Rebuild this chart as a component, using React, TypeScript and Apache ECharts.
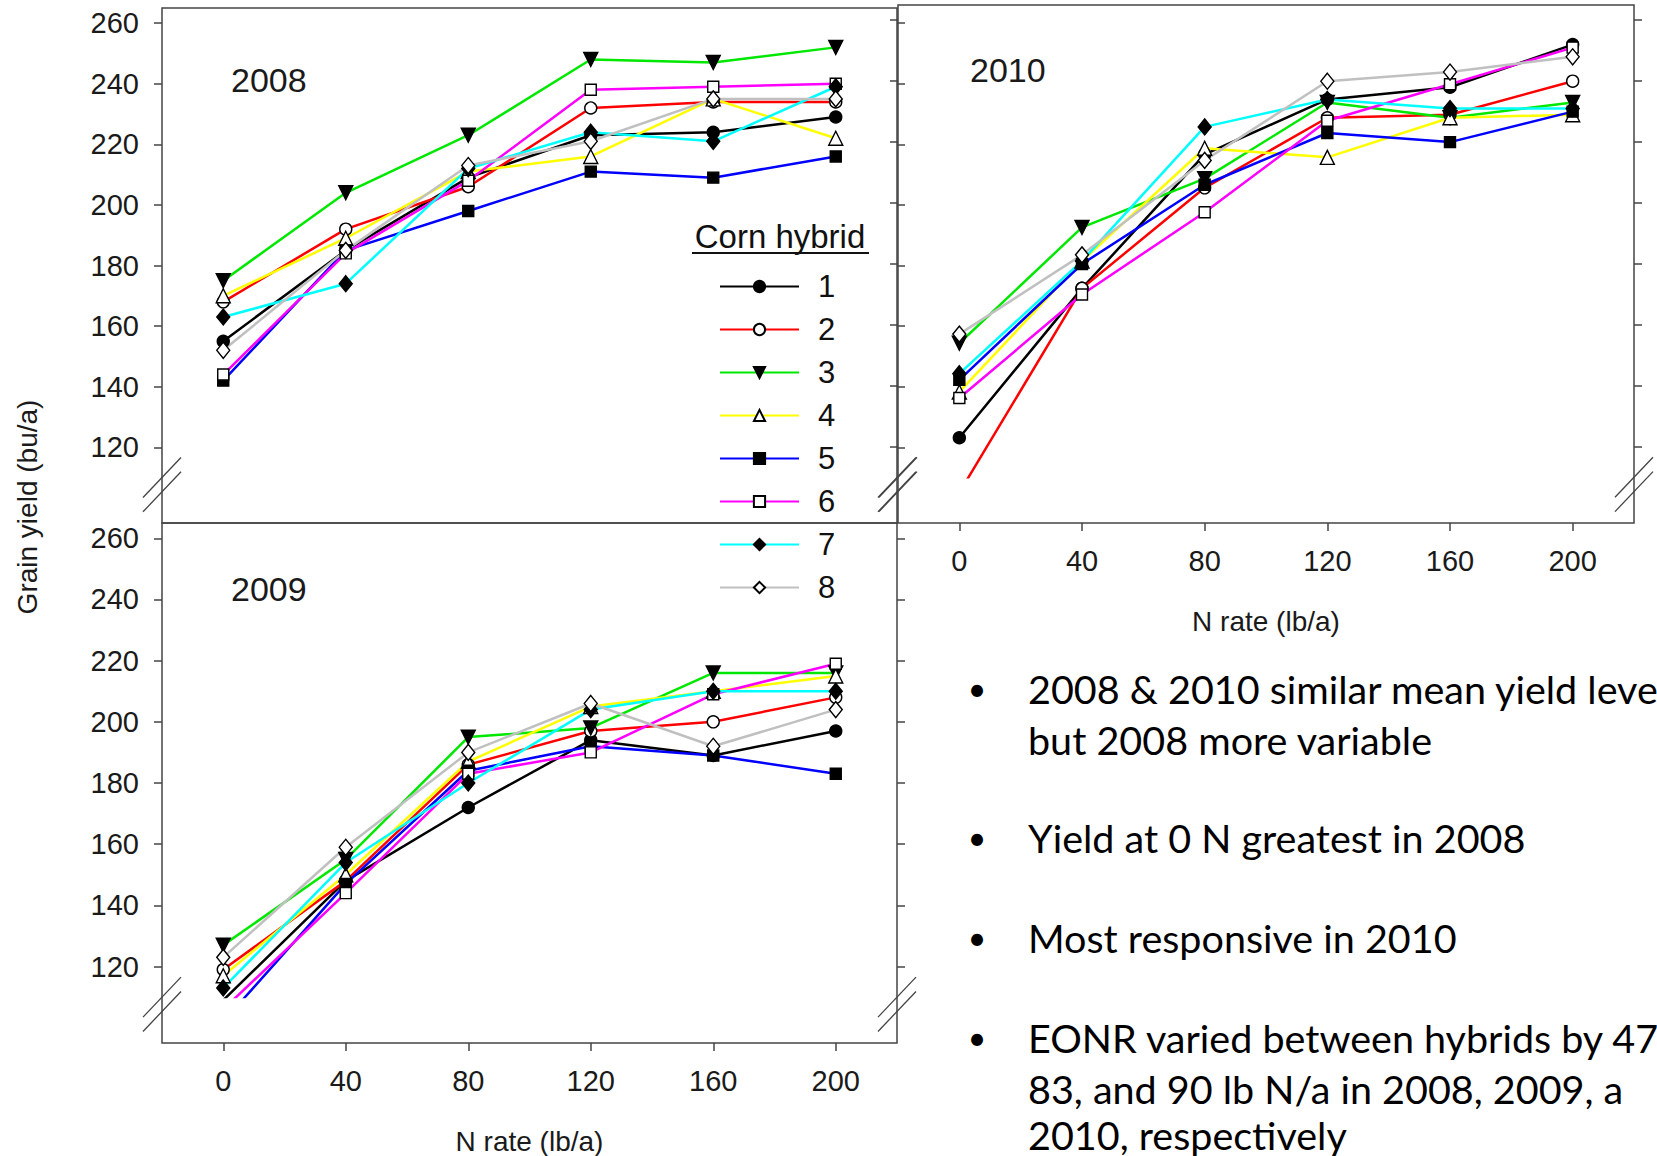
import React, { useEffect, useRef } from 'react';
import * as echarts from 'echarts';

// ---------- data ----------
const N_RATES = [0, 40, 80, 120, 160, 200];
const HYBRIDS = ['1', '2', '3', '4', '5', '6', '7', '8'];
const YEARS = ['2008', '2009', '2010'];

// grain yield (bu/a) per hybrid 1..8 at N rates 0..200
const YIELD_2008 = [
  [155, 185, 209, 223, 224, 229],
  [168, 192, 206, 232, 234, 234],
  [175, 204, 223, 248, 247, 252],
  [170, 189, 211, 216, 235, 222],
  [142, 185, 198, 211, 209, 216],
  [144, 184, 208, 238, 239, 240],
  [163, 174, 212, 224, 221, 239],
  [152, 185, 213, 221, 235, 235],
];
const YIELD_2009 = [
  [109, 148, 172, 194, 189, 197],
  [119, 148, 186, 197, 200, 208],
  [127, 155, 195, 198, 216, 216],
  [117, 150, 187, 205, 210, 215],
  [102, 147, 184, 192, 189, 183],
  [106, 144, 183, 190, 209, 219],
  [113, 154, 180, 204, 210, 210],
  [123, 159, 190, 206, 192, 204],
];
const YIELD_2010 = [
  [123, 172, 216, 234, 238, 252],
  [105, 172, 205, 228, 229, 240],
  [154, 192, 208, 233, 228, 233],
  [138, 181, 218, 215, 228, 229],
  [142, 180, 206, 223, 220, 230],
  [136, 170, 197, 227, 239, 251],
  [144, 181, 225, 234, 231, 231],
  [157, 183, 214, 240, 243, 248],
];

const Y_TICKS = [120, 140, 160, 180, 200, 220, 240, 260];
const X_TICKS = [0, 40, 80, 120, 160, 200];

// notes as visible in the reference (cut at the right edge of the slide)
const BULLETS = [
  ['2008 & 2010 similar mean yield leve', 'but 2008 more variable'],
  ['Yield at 0 N greatest in 2008'],
  ['Most responsive in 2010'],
  ['EONR varied between hybrids by 47', '83, and 90 lb N/a in 2008, 2009, a', '2010, respectively'],
];

// ---------- styles ----------
const LINE_COLORS = ['#000000', '#ff0000', '#00e800', '#ffff00', '#0000ff', '#ff00ff', '#00ffff', '#c0c0c0'];
const SYMBOLS = ['circle', 'circle', 'triangle', 'triangle', 'rect', 'rect', 'diamond', 'diamond'];
const SYMBOL_ROTATE = [0, 0, 180, 0, 0, 0, 0, 0];
const SYMBOL_FILL = ['#000', '#fff', '#000', '#fff', '#000', '#fff', '#000', '#fff'];
const SYMBOL_SIZE: any[] = [12, 12, 14, 14, 11, 11, [13, 16], [13, 16]];

const FONT = '"Liberation Sans", Arial, sans-serif';
const BULLET_FONT = 'Lato, "Open Sans", sans-serif';
const FRAME = '#444444';

const Y_MIN = 95;
const Y_MAX = 265;
const CLIP_MIN = 110;
const X_MIN = -20;
const X_MAX = 220;

const PANELS = [
  { left: 162, top: 8, width: 735, height: 515, yLabels: true, xLabels: false, labelX: 231, labelY: 80 },
  { left: 162, top: 523, width: 735, height: 520, yLabels: true, xLabels: true, labelX: 231, labelY: 589 },
  { left: 898, top: 5, width: 736, height: 518, yLabels: false, xLabels: true, labelX: 970, labelY: 70 },
];

export default function App() {
  const ref = useRef<HTMLDivElement>(null);

  useEffect(() => {
    if (!ref.current) return;
    const chart = echarts.init(ref.current, null, { renderer: 'svg' });
    const yearData = [YIELD_2008, YIELD_2009, YIELD_2010];

    const grids: any[] = [];
    const xAxes: any[] = [];
    const yAxes: any[] = [];
    const series: any[] = [];

    const tickStyle = { color: FRAME, width: 1.5 };

    // frame grids 0..2
    PANELS.forEach((p) => {
      grids.push({
        left: p.left, top: p.top, width: p.width, height: p.height,
        show: true, borderColor: FRAME, borderWidth: 1.5, backgroundColor: 'transparent',
        containLabel: false, outerBoundsMode: 'none',
      });
    });
    // data (clipped at the axis break) grids 3..5
    PANELS.forEach((p) => {
      grids.push({
        left: p.left, top: p.top, width: p.width,
        height: (p.height * (Y_MAX - CLIP_MIN)) / (Y_MAX - Y_MIN),
        show: false, containLabel: false, outerBoundsMode: 'none',
      });
    });

    // x axes: frames 0..2, data 3..5
    PANELS.forEach((p, i) => {
      xAxes.push({
        type: 'value', gridIndex: i, min: X_MIN, max: X_MAX, position: 'bottom',
        axisLine: { show: false, onZero: false },
        axisTick: { show: p.xLabels, customValues: X_TICKS, length: 8, inside: false, lineStyle: tickStyle },
        axisLabel: { show: p.xLabels, customValues: X_TICKS, fontSize: 29, color: '#1a1a1a', fontFamily: FONT, margin: 23 },
        splitLine: { show: false },
        name: p.xLabels ? 'N rate (lb/a)' : '',
        nameLocation: 'middle', nameGap: 84,
        nameTextStyle: { fontSize: 28, color: '#1a1a1a', fontFamily: FONT },
      });
    });
    PANELS.forEach((p, i) => {
      xAxes.push({ type: 'value', gridIndex: 3 + i, min: X_MIN, max: X_MAX, show: false, axisLine: { onZero: false } });
    });

    // y axes: frame i -> left 2i, right 2i+1 ; data -> 6+i
    PANELS.forEach((p, i) => {
      yAxes.push({
        type: 'value', gridIndex: i, min: Y_MIN, max: Y_MAX, position: 'left',
        axisLine: { show: false, onZero: false },
        axisTick: { show: true, customValues: Y_TICKS, length: 8, inside: false, lineStyle: tickStyle },
        axisLabel: { show: p.yLabels, customValues: Y_TICKS, fontSize: 29, color: '#1a1a1a', fontFamily: FONT, margin: 23 },
        splitLine: { show: false },
      });
      yAxes.push({
        type: 'value', gridIndex: i, min: Y_MIN, max: Y_MAX, position: 'right',
        axisLine: { show: false, onZero: false },
        axisTick: { show: true, customValues: Y_TICKS, length: 8, inside: false, lineStyle: tickStyle },
        axisLabel: { show: false },
        splitLine: { show: false },
      });
    });
    PANELS.forEach((p, i) => {
      yAxes.push({ type: 'value', gridIndex: 3 + i, min: CLIP_MIN, max: Y_MAX, show: false, axisLine: { onZero: false } });
    });

    yearData.forEach((yields, pi) => {
      yields.forEach((vals, h) => {
        series.push({
          type: 'line',
          name: HYBRIDS[h],
          xAxisIndex: 3 + pi,
          yAxisIndex: 6 + pi,
          clip: true,
          data: N_RATES.map((n, k) => [n, vals[k]]),
          symbol: SYMBOLS[h],
          symbolRotate: SYMBOL_ROTATE[h],
          symbolSize: SYMBOL_SIZE[h],
          showAllSymbol: true,
          lineStyle: { color: LINE_COLORS[h], width: 2.5 },
          itemStyle: { color: SYMBOL_FILL[h], borderColor: '#000', borderWidth: 1.4 },
          emphasis: { disabled: true },
          z: 3,
        });
      });
    });

    const baseGraphics: any[] = [];
    // panel year labels
    PANELS.forEach((p, i) => {
      baseGraphics.push({
        type: 'text', x: p.labelX, y: p.labelY,
        style: { text: YEARS[i], fill: '#1a1a1a', font: `34px ${FONT}`, align: 'left', verticalAlign: 'middle' },
      });
    });
    // y axis title
    baseGraphics.push({
      type: 'text', x: 27, y: 507, rotation: Math.PI / 2,
      style: { text: 'Grain yield (bu/a)', fill: '#1a1a1a', font: `28px ${FONT}`, align: 'center', verticalAlign: 'middle' },
    });
    // legend title
    baseGraphics.push({
      type: 'text', x: 780, y: 236,
      style: { text: 'Corn hybrid', fill: '#111', font: `33px ${FONT}`, align: 'center', verticalAlign: 'middle' },
    });
    baseGraphics.push({
      type: 'line', shape: { x1: 692, y1: 253, x2: 869, y2: 253 },
      style: { stroke: '#111', lineWidth: 2 },
    });
    // bullet notes
    const bulletLineY = [[688, 739], [837], [937], [1037, 1088, 1134]];
    BULLETS.forEach((lines, bi) => {
      baseGraphics.push({
        type: 'text', x: 977, y: bulletLineY[bi][0],
        style: { text: '•', fill: '#000', font: `32px ${BULLET_FONT}`, align: 'center', verticalAlign: 'middle' },
      });
      lines.forEach((t, li) => {
        baseGraphics.push({
          type: 'text', x: 1028, y: bulletLineY[bi][li],
          style: { text: t, fill: '#000', font: `39.5px ${BULLET_FONT}`, align: 'left', verticalAlign: 'middle' },
        });
      });
    });

    chart.setOption({
      animation: false,
      backgroundColor: '#ffffff',
      grid: grids,
      xAxis: xAxes,
      yAxis: yAxes,
      series,
      legend: {
        data: HYBRIDS,
        orient: 'vertical',
        left: 714,
        top: 266,
        itemWidth: 79,
        itemHeight: 14,
        itemGap: 12,
        selectedMode: false,
        textStyle: { fontSize: 31, color: '#111', fontFamily: FONT, padding: [0, 0, 0, 14] },
      },
      graphic: baseGraphics,
    });

    // axis-break marks, positioned through the axes
    const breaks: any[] = [];
    PANELS.forEach((p, i) => {
      [X_MIN, X_MAX].forEach((xe) => {
        [110, 105.3].forEach((yv) => {
          const pt = chart.convertToPixel({ xAxisIndex: i, yAxisIndex: 2 * i } as any, [xe, yv]) as number[];
          breaks.push({
            type: 'line',
            shape: { x1: pt[0] - 19, y1: pt[1] + 20, x2: pt[0] + 19, y2: pt[1] - 20 },
            style: { stroke: FRAME, lineWidth: 1.3 },
            z: 10,
          });
        });
      });
    });
    chart.setOption({ graphic: baseGraphics.concat(breaks) });

    return () => chart.dispose();
  }, []);

  return <div ref={ref} style={{ position: 'absolute', left: 0, top: 0, width: 1657, height: 1156 }} />;
}
